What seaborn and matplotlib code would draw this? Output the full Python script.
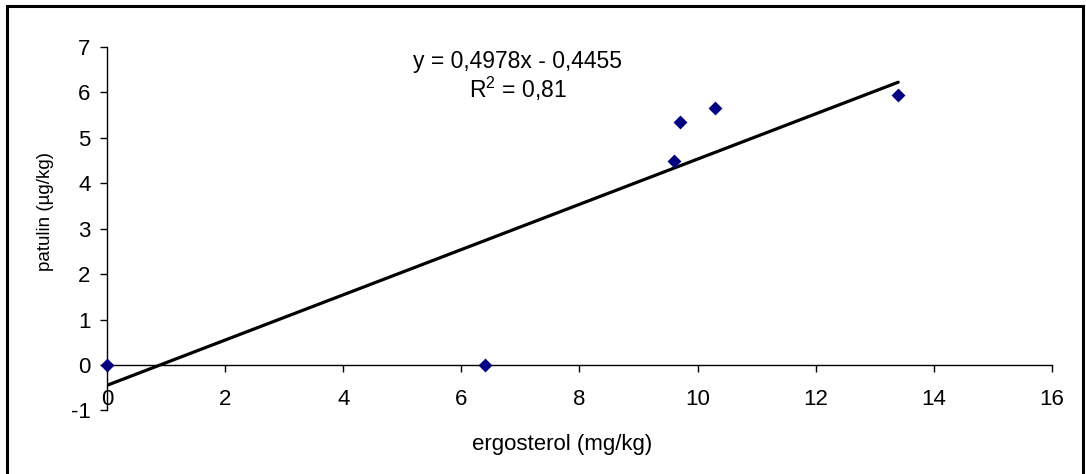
import numpy as np
import pandas as pd
import matplotlib
matplotlib.use('Agg')
import matplotlib.pyplot as plt
import seaborn as sns
from matplotlib.patches import Rectangle

# Data
ergosterol = [0.0, 6.4, 9.6, 9.7, 10.3, 13.4]
patulin = [0.0, 0.0, 4.5, 5.35, 5.65, 5.95]

# Trend line as printed on the chart
slope = 0.4978
intercept = -0.4455
r_squared = '0,81'

x_ticks = [0, 2, 4, 6, 8, 10, 12, 14, 16]
y_ticks = [-1, 0, 1, 2, 3, 4, 5, 6, 7]

df = pd.DataFrame({'ergosterol': ergosterol, 'patulin': patulin})
trend_x = np.array([0.0, max(ergosterol)])
trend = pd.DataFrame({'x': trend_x, 'y': slope * trend_x + intercept})

sns.set_style('ticks')
plt.rcParams['font.family'] = ['Liberation Sans', 'DejaVu Sans']
plt.rcParams.update({'text.color': 'black', 'axes.labelcolor': 'black',
                     'xtick.color': 'black', 'ytick.color': 'black',
                     'axes.unicode_minus': False,
                     'mathtext.fontset': 'custom',
                     'mathtext.rm': 'Liberation Sans',
                     'mathtext.it': 'Liberation Sans',
                     'mathtext.bf': 'Liberation Sans:bold'})

fig = plt.figure(figsize=(10.86, 4.74), dpi=100)
ax = fig.add_axes([0.0988, 0.1342, 0.8696, 0.7666])

# Trend line
sns.lineplot(data=trend, x='x', y='y', ax=ax, color='black', linewidth=2.3,
             zorder=2)

# Data points
sns.scatterplot(data=df, x='ergosterol', y='patulin', ax=ax, marker='D',
                color='#000080', s=50, edgecolor='#000080', linewidth=0,
                zorder=3, clip_on=False)

ax.set_xlim(0, 16)
ax.set_ylim(-1, 7)
ax.set_xticks(x_ticks)
ax.set_yticks(y_ticks)

# Excel style axes: x axis crossing at y = 0
ax.spines['bottom'].set_position(('data', 0))
ax.spines['top'].set_visible(False)
ax.spines['right'].set_visible(False)
for side in ['left', 'bottom']:
    ax.spines[side].set_color('black')
    ax.spines[side].set_linewidth(1.0)

ax.tick_params(axis='both', which='both', direction='out', length=5,
               width=1, color='black', labelsize=16, labelcolor='black',
               bottom=True, left=True)
ax.tick_params(axis='x', pad=12)
ax.tick_params(axis='y', pad=7)

ax.set_xlabel('ergosterol (mg/kg)', fontsize=16)
ax.set_ylabel('patulin (µg/kg)', fontsize=13.5)
ax.xaxis.set_label_coords((562 - 107.3) / 944.4, -0.095)
ax.xaxis.label.set_verticalalignment('center')
ax.yaxis.set_label_coords((46 - 107.3) / 944.4, (410.4 - 211) / 363.4)
ax.yaxis.label.set_verticalalignment('center')

# Equation labels
eq_text = 'y = {}x - {}'.format(str(slope).replace('.', ','),
                               str(abs(intercept)).replace('.', ','))
ax.text(6.95, 6.69, eq_text, ha='center', va='center', fontsize=16.5)
ax.text(6.95, 6.07, 'R$^2$ = ' + r_squared, ha='center', va='center',
        fontsize=16.5)

# Outer chart border
fig.patches.append(Rectangle((7 / 1086, -0.05), (1083 - 7) / 1086,
                             1.05 - 5.7 / 474, transform=fig.transFigure,
                             fill=False, edgecolor='black', linewidth=2.2))

fig.savefig('out.png', dpi=100)
